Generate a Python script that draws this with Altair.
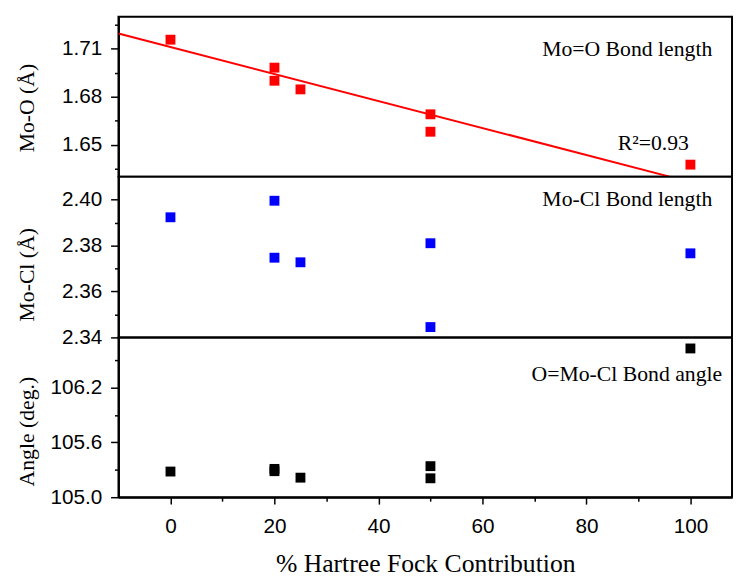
import altair as alt
import pandas as pd

# ---- data ----
hf_pct = [0, 20, 20, 25, 50, 50, 100]
mo_o = [1.7157, 1.6982, 1.6900, 1.6846, 1.6690, 1.6581, 1.6375]
mo_cl = [2.3923, 2.3995, 2.3747, 2.3727, 2.3810, 2.3445, 2.3766]
angle = [105.281, 105.310, 105.285, 105.214, 105.340, 105.207, 106.629]

fit_x = [-10, 96]
fit_y = [1.7196, 1.6300]

x_ticks = [0, 10, 20, 30, 40, 50, 60, 70, 80, 90, 100]
mo_o_ticks = [1.635, 1.65, 1.665, 1.68, 1.695, 1.71, 1.725]
mo_cl_ticks = [2.34, 2.35, 2.36, 2.37, 2.38, 2.39, 2.40]
angle_ticks = [105.0, 105.3, 105.6, 105.9, 106.2, 106.5]

ann_top_text = ["Mo=O Bond length", "R²=0.93"]
ann_top_x = [104.2, 99.7]
ann_top_y = [1.7100, 1.6509]
ann_mid_text = ["Mo-Cl Bond length"]
ann_mid_x = [104.2]
ann_mid_y = [2.4001]
ann_bot_text = ["O=Mo-Cl Bond angle"]
ann_bot_x = [106.1]
ann_bot_y = [106.346]

X_DOMAIN = [-10, 108]
W = 622
SERIF = "Liberation Serif"
SANS = "Liberation Sans"


def y_axis(title, ticks, fmt, major_test, title_y):
    return alt.Axis(
        title=title,
        values=ticks,
        format=fmt,
        labelExpr=f"({major_test}) ? datum.label : ''",
        tickSize={"condition": {"test": major_test, "value": 8}, "value": 4},
        labelPadding=9,
        titlePadding=11,
        minExtent=70,
        maxExtent=70,
        titleY=title_y,
        labelFont=SANS,
        labelFontSize=21,
        titleFont=SERIF,
        titleFontSize=22,
        titleFontWeight="normal",
    )


X_MAJOR = "datum.value % 20 === 0"
X_AXIS = alt.Axis(
    title="% Hartree Fock Contribution",
    values=x_ticks,
    labelExpr=f"({X_MAJOR}) ? datum.label : ''",
    tickSize={"condition": {"test": X_MAJOR, "value": 7}, "value": 4},
    labelPadding=12,
    titlePadding=14,
    labelFlush=False,
    labelFont=SANS,
    labelFontSize=21,
    titleFont=SERIF,
    titleFontSize=26,
    titleFontWeight="normal",
)


def panel(xs, ys, color, ydom, yaxis, xaxis, ann_t, ann_x, ann_y, height, with_fit=False):
    df = pd.DataFrame({"x": xs, "y": ys})
    yscale = alt.Scale(domain=ydom, nice=False, zero=False)
    xscale = alt.Scale(domain=X_DOMAIN, nice=False, zero=False)
    xe = alt.X("x:Q", scale=xscale, axis=xaxis)
    ye = alt.Y("y:Q", scale=yscale, axis=yaxis)
    pts = alt.Chart(df).mark_square(size=100, color=color, opacity=1).encode(x=xe, y=ye)
    tdf = pd.DataFrame({"x": ann_x, "y": ann_y, "t": ann_t})
    txt = alt.Chart(tdf).mark_text(
        align="right", baseline="middle", font=SERIF, fontSize=22, color="black"
    ).encode(x=xe, y=ye, text="t:N")
    layers = [pts, txt]
    if with_fit:
        fdf = pd.DataFrame({"x": fit_x, "y": fit_y})
        line = alt.Chart(fdf).mark_line(color="#ff0000", strokeWidth=2, clip=True).encode(x=xe, y=ye)
        layers.insert(0, line)
    return alt.layer(*layers).properties(width=W, height=height)


top = panel(
    hf_pct, mo_o, "#ff0000", [1.63, 1.73],
    y_axis("Mo-O (Å)", mo_o_ticks, ".2f", "round(datum.value*1000) % 30 === 0", 92),
    None, ann_top_text, ann_top_x, ann_top_y, 162, with_fit=True,
)
mid = panel(
    hf_pct, mo_cl, "#0000ff", [2.34, 2.41],
    y_axis("Mo-Cl (Å)", mo_cl_ticks, ".2f", "round(datum.value*100) % 2 === 0", 99),
    None, ann_mid_text, ann_mid_x, ann_mid_y, 163,
)
bot = panel(
    hf_pct, angle, "#000000", [105.0, 106.75],
    y_axis("Angle (deg.)", angle_ticks, ".1f", "round(datum.value*10) % 6 === 0", 95),
    X_AXIS, ann_bot_text, ann_bot_x, ann_bot_y, 162,
)

chart = alt.vconcat(top, mid, bot, spacing=0, bounds="flush").properties(
    padding={"left": 7, "top": 4, "right": 0, "bottom": 0}
).configure_view(stroke="black", strokeWidth=2).configure_axis(
    domainColor="black", domainWidth=2, tickColor="black", tickWidth=1.5,
    labelColor="black", titleColor="black", grid=False,
    titleFont=SERIF, titleFontWeight="normal", labelFont=SANS,
)

chart.save("out.html", embed_options={"renderer": "svg", "actions": False})
